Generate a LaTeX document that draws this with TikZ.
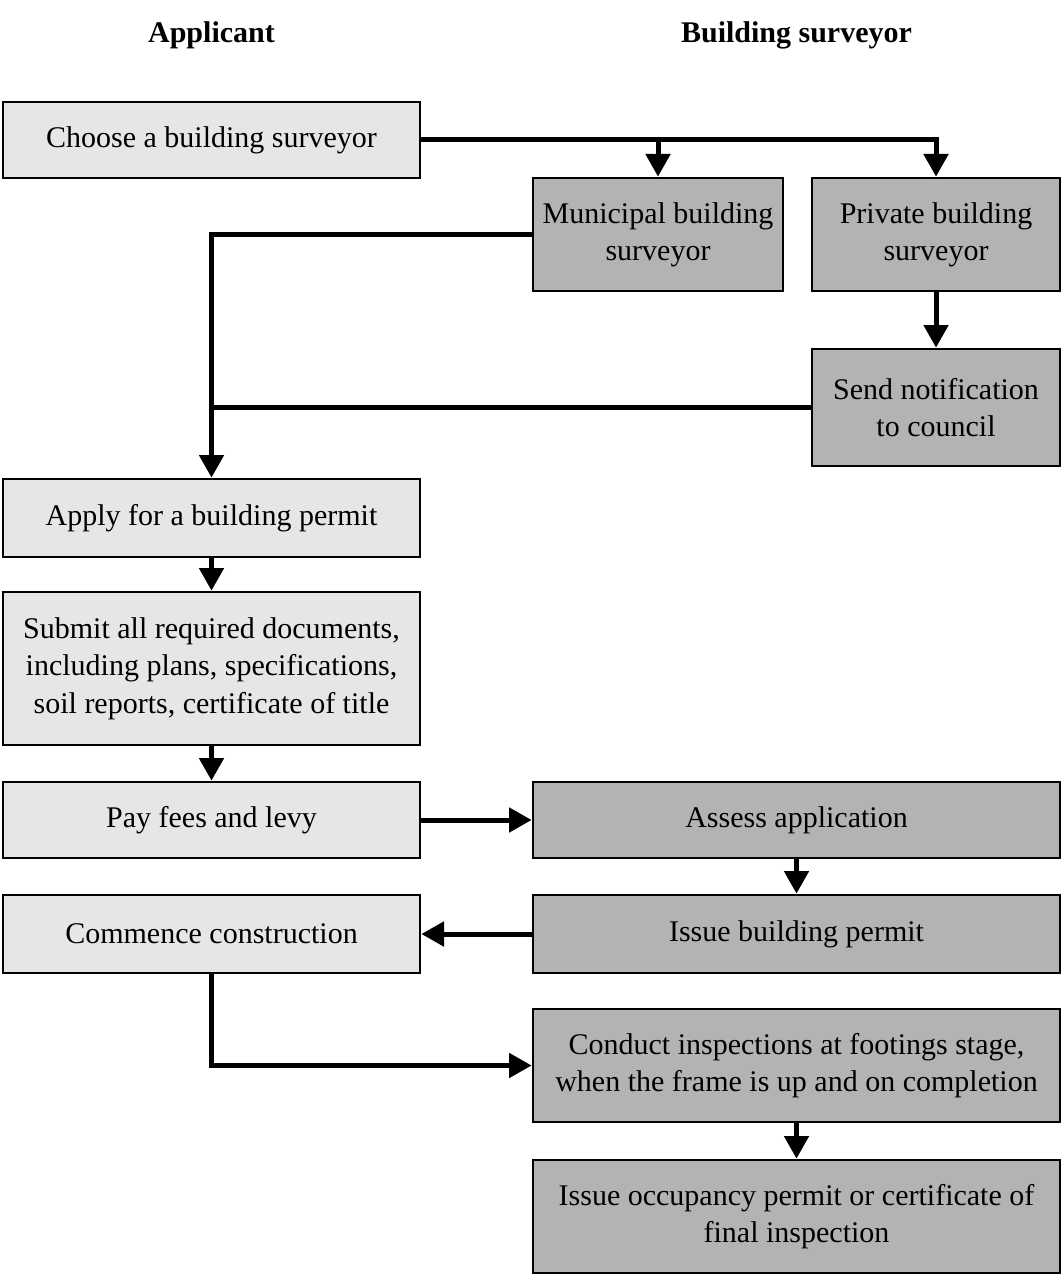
\documentclass[tikz,border=0pt]{standalone}
\usepackage{fontspec}
\setmainfont{Liberation Serif}
\usetikzlibrary{arrows.meta}
\definecolor{lightbox}{HTML}{E6E6E6}
\definecolor{darkbox}{HTML}{B3B3B3}
\begin{document}
\begin{tikzpicture}[x=0.75pt,y=-0.75pt,
  box/.style={draw=black, line width=2pt, align=center, inner sep=0pt,
    font=\fontsize{22.5}{28}\selectfont},
  app/.style={box, fill=lightbox, minimum width=312.75pt},
  srv/.style={box, fill=darkbox},
  wide/.style={srv, minimum width=395.25pt},
  head/.style={font=\fontsize{22.5}{28}\selectfont\bfseries},
  conn/.style={line width=3.75pt, -{Triangle[width=18pt,length=17pt]}},
  joinline/.style={line width=3.75pt}]
\useasboundingbox (0,0) rectangle (1062,1277);

\node[head] (happ) at (211.5,35) {Applicant};
\node[head] (hsrv) at (796.5,35) {Building surveyor};

\node[app, minimum height=57pt] (choose) at (211.5,140) {Choose a building surveyor};
\node[srv, minimum width=187.5pt, minimum height=84.75pt] (municipal) at (658,234.5) {Municipal building\\surveyor};
\node[srv, minimum width=186pt, minimum height=84.75pt] (private) at (936,234.5) {Private building\\surveyor};
\node[srv, minimum width=186pt, minimum height=87.75pt] (send) at (936,407.5) {Send notification\\to council};
\node[app, minimum height=58.5pt] (apply) at (211.5,518) {Apply for a building permit};
\node[app, minimum height=114.75pt] (submit) at (211.5,668.5) {Submit all required documents,\\including plans, specifications,\\soil reports, certificate of title};
\node[app, minimum height=57pt] (pay) at (211.5,820) {Pay fees and levy};
\node[wide, minimum height=57pt] (assess) at (796.5,820) {Assess application};
\node[app, minimum height=58.5pt] (commence) at (211.5,934) {Commence construction};
\node[wide, minimum height=58.5pt] (issue) at (796.5,934) {Issue building permit};
\node[wide, minimum height=84.75pt] (conduct) at (796.5,1065.5) {Conduct inspections at footings stage,\\when the frame is up and on completion};
\node[wide, minimum height=84.75pt] (occupancy) at (796.5,1216.5) {Issue occupancy permit or certificate of\\final inspection};

\draw[conn] (choose.east) -| (private.north);
\draw[conn] (choose.east -| municipal.north) -- (municipal.north);
\draw[conn] (private.south) -- (send.north);
\draw[conn] (municipal.west) -| (apply.north);
\draw[joinline] (send.west) -- (send.west -| apply.north);
\draw[conn] (apply.south) -- (submit.north);
\draw[conn] (submit.south) -- (pay.north);
\draw[conn] (pay.east) -- (assess.west);
\draw[conn] (assess.south) -- (issue.north);
\draw[conn] (issue.west) -- (commence.east);
\draw[conn] (commence.south) |- (conduct.west);
\draw[conn] (conduct.south) -- (occupancy.north);
\end{tikzpicture}
\end{document}
